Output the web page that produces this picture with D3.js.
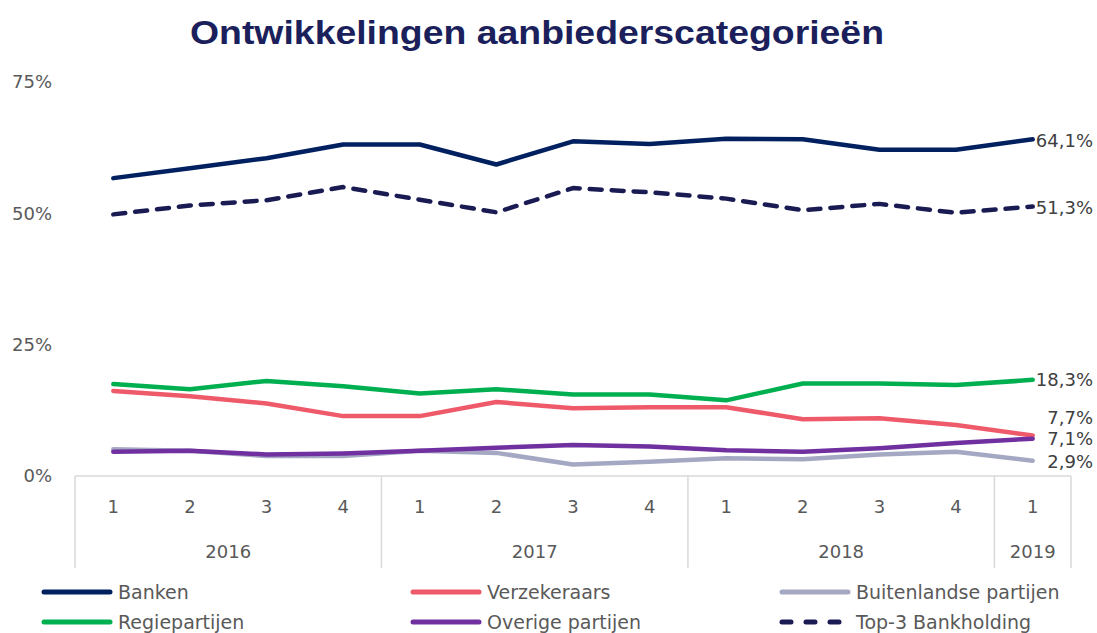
<!DOCTYPE html>
<html>
<head>
<meta charset="utf-8">
<script src="https://cdn.jsdelivr.net/npm/d3@7"></script>
<style>
  body { margin: 0; background: #fff; }
  text { font-family: "DejaVu Sans", sans-serif; }
</style>
</head>
<body>
<script>
var quarters = ["1", "2", "3", "4", "1", "2", "3", "4", "1", "2", "3", "4", "1"];
var years = ["2016", "2016", "2016", "2016", "2017", "2017", "2017", "2017", "2018", "2018", "2018", "2018", "2019"];
var yTicks = [0, 25, 50, 75];

var banken       = [56.7, 58.6, 60.5, 63.1, 63.1, 59.3, 63.7, 63.2, 64.2, 64.1, 62.1, 62.1, 64.1];
var verzekeraars = [16.2, 15.2, 13.8, 11.4, 11.4, 14.1, 12.9, 13.1, 13.1, 10.8, 11.0, 9.7, 7.7];
var buitenlands  = [5.1, 4.8, 3.8, 3.8, 4.8, 4.4, 2.2, 2.7, 3.4, 3.2, 4.1, 4.6, 2.9];
var regie        = [17.5, 16.5, 18.1, 17.1, 15.7, 16.5, 15.5, 15.5, 14.4, 17.6, 17.6, 17.3, 18.3];
var overige      = [4.6, 4.8, 4.1, 4.3, 4.8, 5.4, 5.9, 5.6, 4.9, 4.6, 5.3, 6.3, 7.1];
var top3         = [49.8, 51.5, 52.5, 55.0, 52.6, 50.2, 54.8, 54.0, 52.8, 50.6, 51.8, 50.1, 51.3];

var seriesNames = ["Banken", "Verzekeraars", "Buitenlandse partijen", "Regiepartijen", "Overige partijen", "Top-3 Bankholding"];
var seriesData = [banken, verzekeraars, buitenlands, regie, overige, top3];
var colors = ["#002060", "#ef5a6a", "#a4a8c3", "#00b050", "#7030a0", "#1a1b52"];
var dashed = [false, false, false, false, false, true];
// vertical nudges for the end labels so they don't collide
var labelShift = [1, -18, 1, 0, 0, 1];

var w = 1097, h = 633;
var svg = d3.select("body").append("svg")
    .attr("width", w)
    .attr("height", h);

svg.append("text")
   .text("Ontwikkelingen aanbiederscategorieën")
   .attr("x", 537)
   .attr("y", 44)
   .attr("text-anchor", "middle")
   .style("font-family", "'Liberation Sans', Arial, sans-serif")
   .attr("font-weight", "bold")
   .attr("font-size", "33px")
   .attr("textLength", 694)
   .attr("lengthAdjust", "spacingAndGlyphs")
   .attr("fill", "#1b1f5b");

var x = d3.scaleBand()
    .domain(d3.range(quarters.length))
    .range([75, 1071])
    .padding(0);

var y = d3.scaleLinear()
    .domain([0, 75])
    .range([476, 82]);

// y axis labels
svg.selectAll(".ylab")
   .data(yTicks)
   .enter()
   .append("text")
   .attr("class", "ylab")
   .text(function(d) { return d + "%"; })
   .attr("x", 52)
   .attr("y", function(d) { return y(d); })
   .attr("dy", "0.36em")
   .attr("text-anchor", "end")
   .attr("font-size", "18px")
   .attr("fill", "#595959");

// category axis
var axisColor = "#d9d9d9";
svg.append("line")
   .attr("x1", 75).attr("x2", 1071)
   .attr("y1", y(0)).attr("y2", y(0))
   .attr("stroke", axisColor)
   .attr("stroke-width", 1.5);

var yearGroups = d3.groups(d3.range(years.length), function(i) { return years[i]; });
var bounds = [75];
yearGroups.forEach(function(g) {
  var last = g[1][g[1].length - 1];
  bounds.push(x(last) + x.bandwidth());
});

svg.selectAll(".sep")
   .data(bounds)
   .enter()
   .append("line")
   .attr("class", "sep")
   .attr("x1", function(d) { return d; })
   .attr("x2", function(d) { return d; })
   .attr("y1", y(0))
   .attr("y2", 568)
   .attr("stroke", axisColor)
   .attr("stroke-width", 1.5);

svg.selectAll(".qlab")
   .data(quarters)
   .enter()
   .append("text")
   .attr("class", "qlab")
   .text(function(d) { return d; })
   .attr("x", function(d, i) { return x(i) + x.bandwidth() / 2; })
   .attr("y", 507)
   .attr("dy", "0.36em")
   .attr("text-anchor", "middle")
   .attr("font-size", "18px")
   .attr("fill", "#595959");

svg.selectAll(".yrlab")
   .data(yearGroups)
   .enter()
   .append("text")
   .attr("class", "yrlab")
   .text(function(d) { return d[0]; })
   .attr("x", function(d) {
      var idx = d[1];
      return (x(idx[0]) + x(idx[idx.length - 1]) + x.bandwidth()) / 2;
   })
   .attr("y", 552)
   .attr("dy", "0.36em")
   .attr("text-anchor", "middle")
   .attr("font-size", "18px")
   .attr("fill", "#595959");

// lines
var line = d3.line()
    .x(function(d, i) { return x(i) + x.bandwidth() / 2; })
    .y(function(d) { return y(d); });

svg.selectAll(".series")
   .data(seriesData)
   .enter()
   .append("path")
   .attr("class", "series")
   .attr("d", function(d) { return line(d); })
   .attr("fill", "none")
   .attr("stroke", function(d, i) { return colors[i]; })
   .attr("stroke-width", 4.5)
   .attr("stroke-linejoin", "round")
   .attr("stroke-linecap", "round")
   .attr("stroke-dasharray", function(d, i) { return dashed[i] ? "12,10" : null; });

// end labels
var lastIdx = quarters.length - 1;
svg.selectAll(".endlab")
   .data(seriesData)
   .enter()
   .append("text")
   .attr("class", "endlab")
   .text(function(d) { return d3.format(".1f")(d[lastIdx]).replace(".", ",") + "%"; })
   .attr("x", 1093)
   .attr("y", function(d, i) { return y(d[lastIdx]) + labelShift[i]; })
   .attr("dy", "0.36em")
   .attr("text-anchor", "end")
   .attr("font-size", "18px")
   .attr("fill", "#404040");

// legend
var legCols = [42, 411, 780];
var legRows = [592, 622];
var leg = svg.selectAll(".leg")
   .data(seriesNames)
   .enter()
   .append("g")
   .attr("class", "leg")
   .attr("transform", function(d, i) {
      return "translate(" + legCols[i % 3] + "," + legRows[Math.floor(i / 3)] + ")";
   });

leg.append("line")
   .attr("x1", 2).attr("x2", 68)
   .attr("y1", 0).attr("y2", 0)
   .attr("stroke", function(d, i) { return colors[i]; })
   .attr("stroke-width", 5)
   .attr("stroke-linecap", "round")
   .attr("stroke-dasharray", function(d, i) { return dashed[i] ? "9,15" : null; });

leg.append("text")
   .text(function(d) { return d; })
   .attr("x", 76)
   .attr("y", 0)
   .attr("dy", "0.36em")
   .attr("font-size", "19px")
   .attr("fill", "#595959");
</script>
</body>
</html>
